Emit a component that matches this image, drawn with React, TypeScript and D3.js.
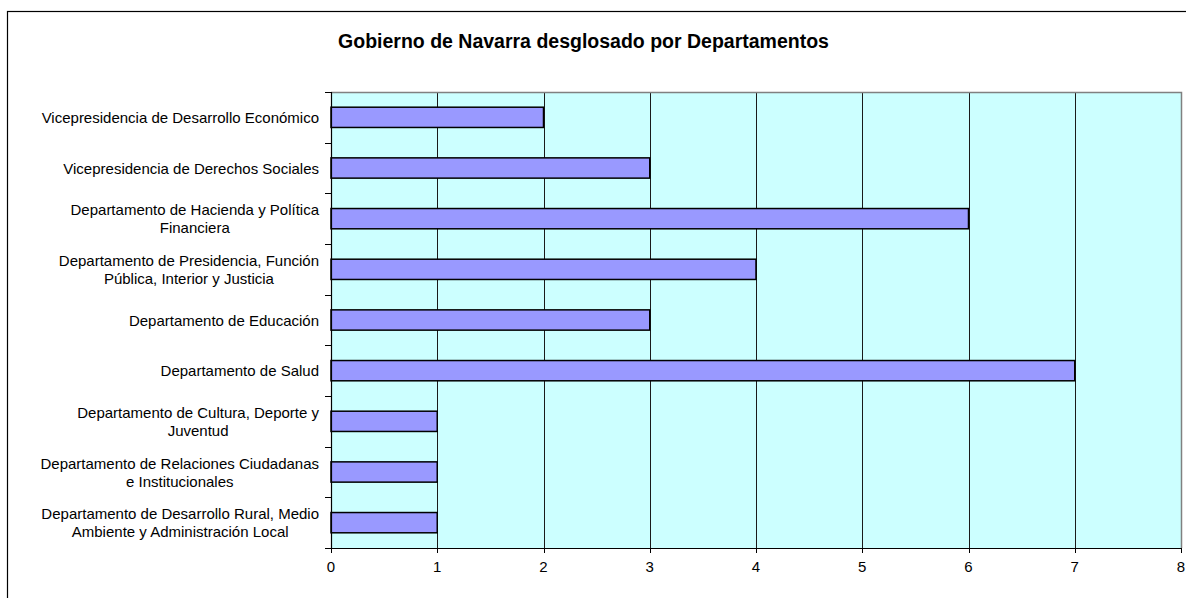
import React, { useEffect, useRef } from "react";
import * as d3 from "d3";

const title = "Gobierno de Navarra desglosado por Departamentos";
const categories: string[][] = [
  ["Vicepresidencia de Desarrollo Económico"],
  ["Vicepresidencia de Derechos Sociales"],
  ["Departamento de Hacienda y Política", "Financiera"],
  ["Departamento de Presidencia, Función", "Pública, Interior y Justicia"],
  ["Departamento de Educación"],
  ["Departamento de Salud"],
  ["Departamento de Cultura, Deporte y", "Juventud"],
  ["Departamento de Relaciones Ciudadanas", "e Institucionales"],
  ["Departamento de Desarrollo Rural, Medio", "Ambiente y Administración Local"],
];
const values = [2, 3, 6, 4, 3, 7, 1, 1, 1];
const xTicks = [0, 1, 2, 3, 4, 5, 6, 7, 8];

const W = 1186;
const H = 598;
const plot = { left: 331, right: 1181, top: 92, bottom: 548 };
const FONT = "'Liberation Sans', Arial, sans-serif";

export default function App() {
  const ref = useRef<SVGSVGElement | null>(null);

  useEffect(() => {
    const svg = d3.select(ref.current);
    svg.selectAll("*").remove();

    svg.append("rect").attr("width", W).attr("height", H).attr("fill", "#fff");
    svg
      .append("rect")
      .attr("x", 7.5)
      .attr("y", 11.5)
      .attr("width", 1200)
      .attr("height", 600)
      .attr("fill", "none")
      .attr("stroke", "#000")
      .attr("stroke-width", 1.2);

    const x = d3.scaleLinear().domain([0, 8]).range([plot.left, plot.right]);
    const idx = categories.map((_, i) => String(i));
    const y = d3
      .scaleBand<string>()
      .domain(idx)
      .range([plot.top, plot.bottom])
      .padding(0);
    const bw = y.bandwidth();

    // plot background
    svg
      .append("rect")
      .attr("x", plot.left)
      .attr("y", plot.top)
      .attr("width", plot.right - plot.left)
      .attr("height", plot.bottom - plot.top)
      .attr("fill", "#ccffff");

    // gridlines
    svg
      .append("g")
      .selectAll("line")
      .data(xTicks.filter((t) => t > 0 && t < 8))
      .join("line")
      .attr("x1", (d) => Math.round(x(d)) + 0.5)
      .attr("x2", (d) => Math.round(x(d)) + 0.5)
      .attr("y1", plot.top)
      .attr("y2", plot.bottom)
      .attr("stroke", "#1a1a1a")
      .attr("stroke-width", 1);

    // plot border top/right
    svg
      .append("path")
      .attr(
        "d",
        `M${plot.left},${plot.top + 0.5}H${plot.right + 0.5}V${plot.bottom}`
      )
      .attr("fill", "none")
      .attr("stroke", "#808080")
      .attr("stroke-width", 1.5);

    // bars
    svg
      .append("g")
      .selectAll("rect")
      .data(values)
      .join("rect")
      .attr("x", x(0))
      .attr("y", (_, i) => (y(String(i)) as number) + bw * 0.3)
      .attr("width", (d) => x(d) - x(0))
      .attr("height", bw * 0.4)
      .attr("fill", "#9999ff")
      .attr("stroke", "#000")
      .attr("stroke-width", 1.5);

    // axes lines
    svg
      .append("line")
      .attr("x1", plot.left + 0.5)
      .attr("x2", plot.left + 0.5)
      .attr("y1", plot.top)
      .attr("y2", plot.bottom)
      .attr("stroke", "#000")
      .attr("stroke-width", 1.2);
    svg
      .append("line")
      .attr("x1", plot.left)
      .attr("x2", plot.right + 1)
      .attr("y1", plot.bottom + 0.5)
      .attr("y2", plot.bottom + 0.5)
      .attr("stroke", "#000")
      .attr("stroke-width", 1.2);

    // y ticks at band boundaries
    const boundaries = idx.map((k) => y(k) as number).concat([plot.bottom]);
    svg
      .append("g")
      .selectAll("line")
      .data(boundaries)
      .join("line")
      .attr("x1", plot.left - 6)
      .attr("x2", plot.left)
      .attr("y1", (d) => Math.round(d) + 0.5)
      .attr("y2", (d) => Math.round(d) + 0.5)
      .attr("stroke", "#000");

    // x ticks
    svg
      .append("g")
      .selectAll("line")
      .data(xTicks)
      .join("line")
      .attr("x1", (d) => Math.round(x(d)) + 0.5)
      .attr("x2", (d) => Math.round(x(d)) + 0.5)
      .attr("y1", plot.bottom)
      .attr("y2", plot.bottom + 5)
      .attr("stroke", "#000");
    svg
      .append("g")
      .selectAll("text")
      .data(xTicks)
      .join("text")
      .attr("x", (d) => x(d))
      .attr("y", 572)
      .attr("text-anchor", "middle")
      .attr("font-family", FONT)
      .attr("font-size", 15)
      .attr("fill", "#000")
      .text((d) => String(d));

    // category labels
    const labelRight = 319;
    const lineH = 18;
    categories.forEach((lines, i) => {
      const cy = (y(String(i)) as number) + bw / 2;
      const g = svg.append("g");
      const texts = lines.map((ln, j) =>
        g
          .append("text")
          .attr("font-family", FONT)
          .attr("font-size", 15)
          .attr("fill", "#000")
          .attr("text-anchor", "middle")
          .attr("y", cy + 5.5 + (j - (lines.length - 1) / 2) * lineH)
          .text(ln)
      );
      const widths = texts.map(
        (t) => (t.node() as SVGTextElement).getComputedTextLength()
      );
      const maxW = Math.max(...widths);
      texts.forEach((t) => t.attr("x", labelRight - maxW / 2));
    });

    // title
    svg
      .append("text")
      .attr("x", 583.5)
      .attr("y", 48)
      .attr("text-anchor", "middle")
      .attr("font-family", FONT)
      .attr("font-size", 19.5)
      .attr("font-weight", "bold")
      .attr("fill", "#000")
      .text(title);
  }, []);

  return (
    <svg
      ref={ref}
      width={W}
      height={H}
      style={{ position: "absolute", left: 0, top: 0, display: "block" }}
    />
  );
}
